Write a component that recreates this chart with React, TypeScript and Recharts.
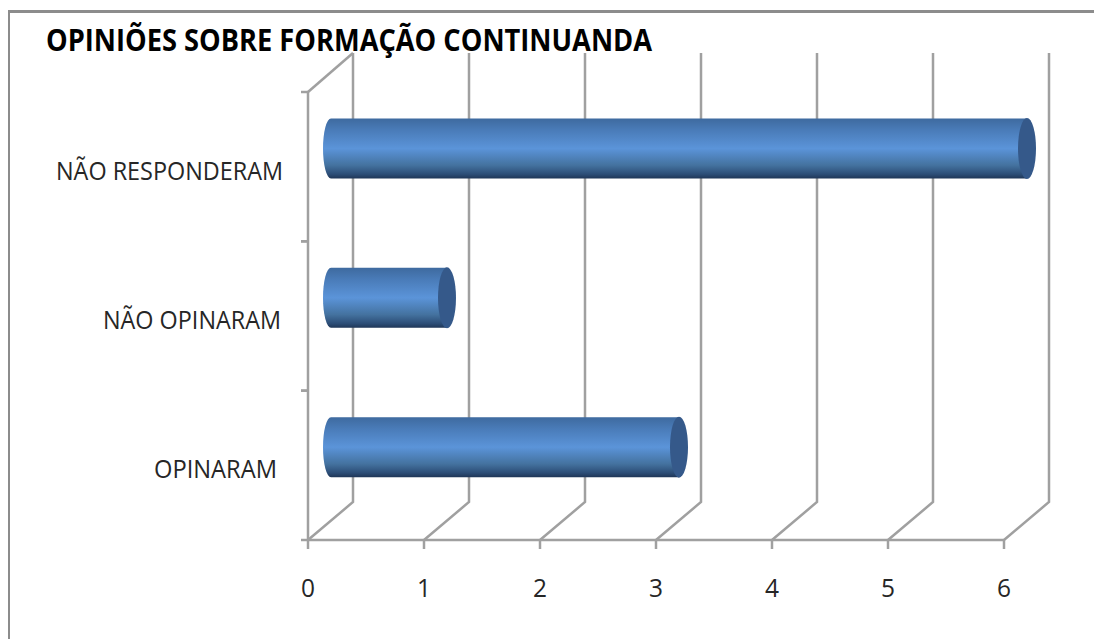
import { BarChart, Bar, XAxis, YAxis, CartesianGrid } from 'recharts';

const categories = ['NÃO RESPONDERAM', 'NÃO OPINARAM', 'OPINARAM'];
const values = [6, 1, 3];
const xTicks = [0, 1, 2, 3, 4, 5, 6];
const title = 'OPINIÕES SOBRE FORMAÇÃO CONTINUANDA';

const data = categories.map((name, i) => ({ name, value: values[i] }));

const WIDTH = 1094;
const HEIGHT = 639;
const PLOT = { left: 308, right: 1004, top: 92, bottom: 540 };
const DEPTH_X = 45;
const DEPTH_Y = 38;
const GRID = '#a0a0a0';
const LINE = 2.5;
const FONT = '"Open Sans", sans-serif';
const BAND = (PLOT.bottom - PLOT.top) / categories.length;

// label right edge and squeezed width, they are not aligned in the original
const labelBoxes = [
  { right: 283, width: 227 },
  { right: 281, width: 178 },
  { right: 277, width: 123 },
];

// 3d wall: floor diagonal plus the vertical line on the back wall
function wallLine(props: any) {
  const { x1, y2, key } = props;
  const floor = Math.max(props.y1, y2);
  return (
    <polyline
      key={key ?? x1}
      points={`${x1},${floor} ${x1 + DEPTH_X},${floor - DEPTH_Y} ${x1 + DEPTH_X},53`}
      fill="none"
      stroke={GRID}
      strokeWidth={LINE}
    />
  );
}

function XTick({ x, payload }: any) {
  return (
    <g>
      <line x1={x} x2={x} y1={PLOT.bottom} y2={PLOT.bottom + 9} stroke={GRID} strokeWidth={LINE} />
      <text
        x={x - 7}
        y={597}
        fontFamily={FONT}
        fontSize={26}
        fill="#262626"
        textLength={14}
        lengthAdjust="spacingAndGlyphs"
      >
        {payload.value}
      </text>
    </g>
  );
}

function YTick({ y, index }: any) {
  const box = labelBoxes[index];
  const top = y - BAND / 2;
  const bottom = y + BAND / 2;
  return (
    <g>
      {index === 0 && (
        <polyline
          points={`${PLOT.left},${top} ${PLOT.left + DEPTH_X},${top - 39}`}
          fill="none"
          stroke={GRID}
          strokeWidth={LINE}
        />
      )}
      <line x1={PLOT.left - 7} x2={PLOT.left} y1={top} y2={top} stroke={GRID} strokeWidth={LINE} />
      <line x1={PLOT.left - 7} x2={PLOT.left} y1={bottom} y2={bottom} stroke={GRID} strokeWidth={LINE} />
      <text
        x={box.right - box.width}
        y={y + 13}
        fontFamily={FONT}
        fontSize={25}
        fill="#262626"
        textLength={box.width}
        lengthAdjust="spacingAndGlyphs"
      >
        {categories[index]}
      </text>
    </g>
  );
}

function Cylinder({ x, y, width, height }: any) {
  const rx = 8;
  const ry = height / 2;
  const cy = y + height / 2 - 18.5;
  const left = x + 23;
  const right = x + 23 + width;
  return (
    <g>
      <path
        d={`M${left},${cy - ry} L${right},${cy - ry} L${right},${cy + ry} L${left},${cy + ry} A${rx},${ry} 0 0 1 ${left},${cy - ry} Z`}
        fill="url(#barFill)"
      />
      <ellipse cx={right} cy={cy} rx={9} ry={ry + 0.5} fill="#35598a" />
    </g>
  );
}

export default function App() {
  return (
    <div style={{ position: 'absolute', left: 0, top: 0, width: WIDTH, height: HEIGHT, background: '#fff' }}>
      <div
        style={{
          position: 'absolute',
          left: 8,
          top: 10,
          width: WIDTH - 8,
          height: HEIGHT - 10,
          boxSizing: 'border-box',
          borderTop: '3px solid #8c8c8c',
          borderLeft: '2px solid #8c8c8c',
        }}
      />
      <div style={{ position: 'absolute', left: 0, top: 0 }}>
        <BarChart
          width={WIDTH}
          height={HEIGHT}
          data={data}
          layout="vertical"
          margin={{ left: 0, right: WIDTH - PLOT.right, top: PLOT.top, bottom: 0 }}
          barSize={60}
        >
          <defs>
            <linearGradient id="barFill" x1="0" y1="0" x2="0" y2="1">
              <stop offset="0%" stopColor="#3e6a9f" />
              <stop offset="20%" stopColor="#4a7cb9" />
              <stop offset="50%" stopColor="#5b94d9" />
              <stop offset="78%" stopColor="#44729f" />
              <stop offset="93%" stopColor="#2c4d76" />
              <stop offset="100%" stopColor="#1f3657" />
            </linearGradient>
          </defs>
          <CartesianGrid horizontal={false} vertical={wallLine} syncWithTicks />
          <XAxis
            type="number"
            domain={[0, 6]}
            ticks={xTicks}
            interval={0}
            height={HEIGHT - PLOT.bottom}
            axisLine={{ stroke: GRID, strokeWidth: LINE }}
            tickLine={false}
            tick={<XTick />}
          />
          <YAxis
            type="category"
            dataKey="name"
            width={PLOT.left}
            axisLine={{ stroke: GRID, strokeWidth: LINE }}
            tickLine={false}
            tick={<YTick />}
          />
          <Bar dataKey="value" isAnimationActive={false} shape={<Cylinder />} />
          <text
            x={46}
            y={51}
            fontFamily={FONT}
            fontWeight={700}
            fontSize={31}
            fill="#000"
            textLength={606}
            lengthAdjust="spacingAndGlyphs"
          >
            {title}
          </text>
        </BarChart>
      </div>
    </div>
  );
}
